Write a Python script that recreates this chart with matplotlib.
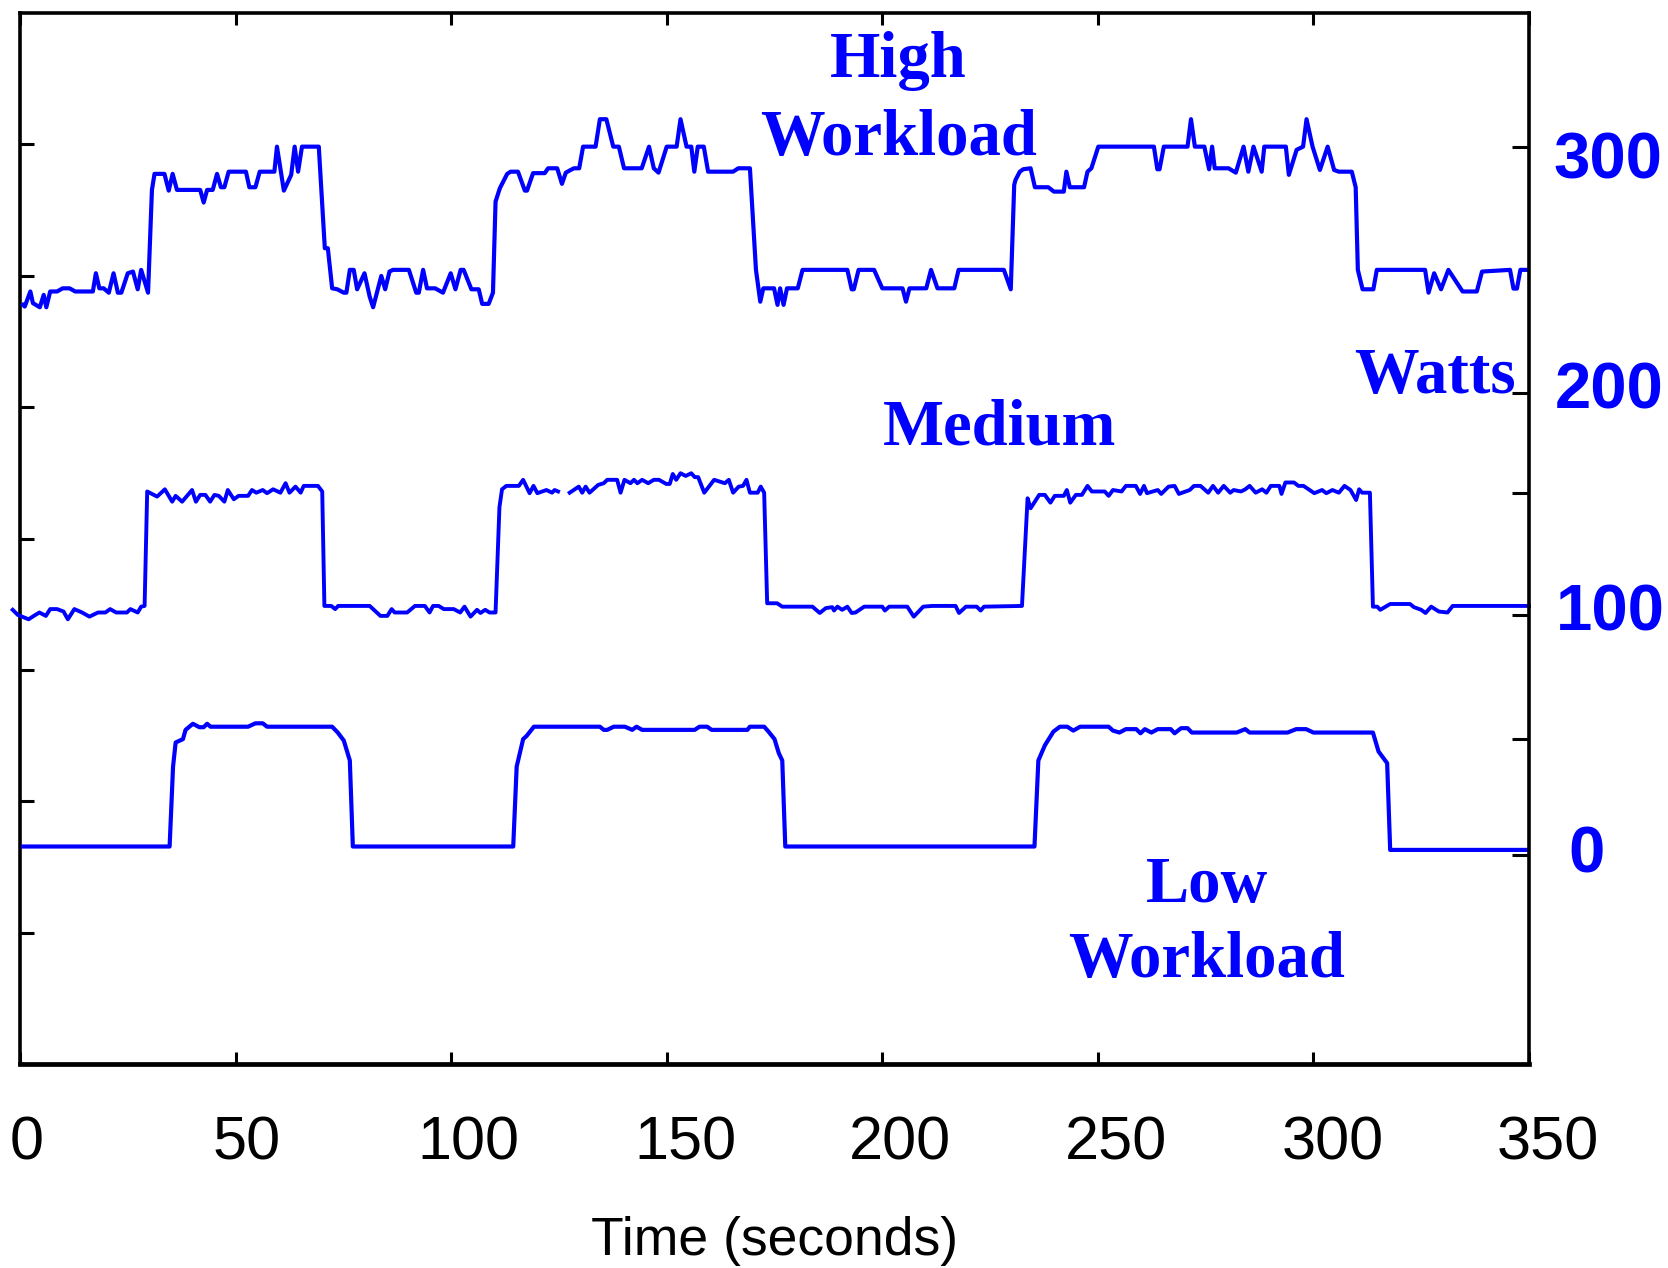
import numpy as np
import matplotlib
matplotlib.use('Agg')
import matplotlib.pyplot as plt
import matplotlib.transforms as mtransforms

# Datos (tiempo en segundos, potencia en watts)
t_high = [0.7, 1.1, 2.4, 3.0, 4.6, 5.5, 6.1, 7.0, 8.6, 9.9, 11.5, 12.8, 16.9, 17.6, 18.4, 19.4, 20.6, 21.7,
          22.7, 23.5, 25.0, 26.2, 27.3, 28.1, 29.7, 30.6, 31.2, 33.5, 34.5, 35.4, 36.4, 41.8, 42.6, 43.4,
          44.7, 45.7, 46.6, 47.4, 48.4, 52.4, 53.2, 54.6, 55.6, 59.0, 59.6, 61.2, 62.9, 63.7, 64.5, 65.4,
          69.3, 70.7, 71.4, 72.4, 73.6, 75.1, 75.7, 76.5, 77.4, 78.2, 79.9, 81.1, 81.9, 83.8, 84.7, 85.7,
          86.5, 90.2, 91.9, 92.5, 93.5, 94.4, 96.3, 98.1, 99.9, 101.0, 102.2, 102.9, 104.7, 106.4, 107.2,
          108.7, 109.7, 110.3, 111.3, 113.0, 113.8, 115.5, 117.1, 117.6, 119.0, 121.7, 122.5, 124.6, 125.7,
          126.6, 127.7, 128.5, 129.7, 130.6, 133.5, 134.5, 136.0, 137.6, 138.9, 140.1, 144.2, 145.9, 147.0,
          148.1, 150.0, 152.3, 153.2, 154.6, 155.7, 156.4, 157.2, 158.6, 159.6, 165.4, 166.6, 169.3, 170.7,
          171.7, 172.4, 174.9, 175.7, 176.3, 177.1, 177.9, 180.4, 181.5, 191.9, 192.9, 193.4, 194.5, 198.1,
          200.0, 204.7, 205.5, 206.3, 210.2, 211.3, 212.8, 216.7, 217.7, 228.2, 229.8, 230.6, 230.9, 231.9,
          232.7, 234.4, 235.4, 238.5, 239.8, 242.1, 242.7, 243.5, 246.8, 247.6, 248.5, 250.1, 263.0, 263.8,
          264.3, 265.3, 270.8, 271.6, 272.5, 274.7, 275.8, 276.5, 277.1, 280.3, 282.0, 283.8, 284.9, 286.1,
          288.0, 288.6, 293.6, 294.3, 296.1, 297.6, 298.4, 299.8, 301.5, 303.3, 304.8, 305.9, 308.9, 309.8,
          310.3, 311.4, 313.9, 314.7, 325.9, 326.7, 328.0, 329.6, 331.3, 334.6, 337.9, 339.1, 345.6, 346.4,
          347.2, 348.0, 350.0]
w_high = [224.3, 223.6, 229.8, 225.0, 223.3, 228.4, 223.3, 229.8, 229.8, 231.1, 231.1, 229.8, 229.8, 237.3,
          231.1, 231.1, 229.3, 237.3, 229.3, 229.3, 237.3, 238.0, 230.7, 238.7, 229.3, 271.6, 278.2, 278.2,
          271.3, 278.2, 271.6, 271.6, 266.4, 271.6, 271.6, 278.2, 272.7, 272.7, 279.1, 279.1, 272.7, 272.7,
          279.1, 279.1, 289.4, 271.3, 277.8, 289.4, 279.1, 289.4, 289.4, 247.6, 247.6, 231.1, 230.7, 229.3,
          229.3, 238.7, 238.7, 230.7, 237.3, 227.7, 223.3, 236.2, 230.7, 238.0, 238.7, 238.7, 229.3, 229.3,
          238.7, 231.1, 231.1, 229.3, 237.3, 230.7, 238.7, 238.7, 230.7, 230.7, 224.7, 224.7, 229.3, 266.8,
          272.3, 278.2, 279.1, 279.1, 271.3, 271.3, 278.5, 278.5, 280.5, 280.5, 274.1, 278.7, 279.8, 280.5,
          280.5, 289.4, 289.4, 300.7, 300.7, 289.4, 289.4, 280.5, 280.5, 289.4, 280.5, 278.7, 289.4, 289.4,
          300.7, 289.4, 289.4, 279.1, 289.4, 289.4, 279.1, 279.1, 280.5, 280.5, 238.7, 225.6, 231.1, 231.1,
          224.3, 231.1, 224.3, 231.1, 231.1, 238.7, 238.7, 230.7, 230.7, 238.7, 238.7, 231.1, 231.1, 225.6,
          231.1, 231.1, 238.7, 231.1, 231.1, 238.7, 238.7, 230.7, 273.7, 275.7, 279.1, 280.1, 280.5, 272.7,
          272.7, 270.9, 270.9, 279.1, 272.7, 272.7, 279.1, 280.5, 289.4, 289.4, 280.1, 280.1, 289.4, 289.4,
          300.7, 289.4, 289.4, 280.1, 289.4, 280.5, 280.5, 278.7, 289.4, 279.1, 289.4, 279.1, 289.4, 289.4,
          277.8, 288.1, 289.4, 300.7, 289.4, 279.8, 289.4, 279.8, 279.1, 279.1, 272.7, 238.7, 230.7, 230.7,
          238.7, 238.7, 229.3, 237.3, 230.7, 238.7, 229.8, 229.8, 238.0, 238.7, 231.0, 231.0, 238.7, 238.7]

t_medium = [-1.7, -0.5, 2.0, 3.2, 4.5, 6.0, 7.0, 8.6, 10.1, 11.1, 12.6, 14.4, 16.1, 18.1, 19.8, 20.9, 22.3,
            24.8, 25.6, 27.3, 28.1, 28.9, 29.5, 31.8, 33.6, 35.3, 36.1, 37.6, 39.9, 40.8, 41.8, 43.0, 44.1,
            45.1, 46.1, 47.4, 48.2, 49.6, 50.7, 52.9, 53.8, 54.8, 56.3, 57.3, 58.7, 60.4, 61.6, 62.5, 63.9,
            65.1, 65.8, 69.1, 70.1, 70.6, 72.2, 73.1, 73.8, 81.1, 83.6, 85.2, 86.2, 86.9, 89.8, 91.6, 93.9,
            95.0, 95.8, 97.1, 98.3, 100.6, 102.1, 103.1, 104.5, 106.0, 106.8, 107.9, 108.9, 110.3, 111.2,
            111.8, 112.8, 115.7, 116.7, 118.2, 119.1, 120.0, 122.1, 123.4, 124.0, 124.8, 126.0, 127.5, 128.7,
            129.6, 130.4, 131.2, 132.1, 134.1, 135.4, 136.2, 138.5, 139.3, 140.2, 141.6, 142.4, 143.2, 144.3,
            145.7, 147.0, 148.2, 149.9, 150.7, 151.4, 152.2, 153.2, 154.4, 155.7, 156.5, 157.3, 158.7, 159.8,
            161.0, 163.5, 164.4, 165.4, 166.7, 167.7, 168.5, 169.3, 171.1, 171.8, 172.6, 173.3, 175.6, 176.8,
            183.8, 185.5, 186.9, 188.4, 188.8, 189.6, 190.7, 191.9, 192.9, 193.8, 195.8, 200.0, 200.6, 201.6,
            205.8, 207.3, 209.5, 211.6, 217.0, 217.8, 219.4, 221.9, 222.8, 223.6, 232.4, 233.7, 234.4, 236.4,
            237.7, 239.0, 240.0, 242.1, 242.8, 243.6, 244.9, 246.3, 247.6, 248.6, 251.6, 252.5, 253.5, 255.5,
            256.5, 258.8, 259.8, 260.7, 261.4, 263.9, 264.7, 266.4, 267.8, 268.8, 271.3, 272.3, 273.8, 275.6,
            276.7, 277.9, 279.2, 280.7, 281.5, 283.2, 284.2, 285.2, 286.6, 288.1, 289.1, 290.1, 292.1, 292.6,
            293.5, 295.5, 296.5, 297.7, 300.2, 302.0, 303.0, 304.4, 305.9, 307.2, 308.6, 309.9, 310.6, 311.3,
            313.1, 313.8, 314.8, 315.5, 317.8, 322.4, 323.3, 325.0, 326.0, 327.3, 329.1, 331.1, 332.3, 350.0]
w_medium = [98.8, 96.7, 94.9, 96.3, 97.7, 96.3, 99.1, 99.1, 98.1, 94.9, 99.1, 97.7, 96.0, 97.7, 97.7, 99.1,
            97.7, 97.7, 99.1, 97.7, 100.1, 100.4, 147.5, 145.4, 148.4, 143.3, 145.7, 143.3, 148.1, 143.3,
            146.1, 146.1, 143.3, 146.1, 145.7, 143.3, 148.1, 144.3, 145.7, 145.7, 148.1, 147.0, 148.1, 146.8,
            148.4, 147.0, 150.9, 147.0, 149.5, 147.0, 149.8, 149.8, 147.5, 100.4, 100.4, 99.1, 100.4, 100.4,
            96.3, 96.3, 99.1, 97.7, 97.7, 100.4, 100.4, 97.7, 100.4, 100.4, 99.1, 99.1, 97.7, 100.1, 96.0,
            98.8, 97.5, 98.8, 97.7, 97.7, 141.0, 148.4, 149.8, 149.8, 152.3, 146.8, 149.8, 146.8, 148.1,
            147.0, 148.1, 147.5, np.nan, 147.0, 148.4, 149.5, 147.0, 149.5, 147.0, 150.2, 150.9, 152.3, 152.3,
            147.0, 152.3, 150.9, 152.3, 150.9, 152.3, 150.9, 152.3, 152.3, 150.6, 150.6, 154.7, 152.3, 155.0,
            153.9, 155.0, 153.4, 153.4, 147.0, 149.5, 152.3, 150.9, 152.3, 147.0, 149.5, 149.8, 152.3, 147.0,
            147.0, 149.5, 147.0, 101.5, 101.5, 100.1, 100.1, 97.5, 99.5, 99.9, 98.5, 100.1, 98.8, 100.1, 97.5,
            97.7, 100.1, 100.1, 98.5, 100.1, 100.1, 96.0, 100.1, 100.4, 100.4, 97.5, 100.1, 100.1, 98.5, 100.1,
            100.4, 144.7, 140.6, 146.1, 146.1, 142.9, 145.7, 145.7, 148.1, 142.9, 146.1, 146.1, 149.8, 147.5,
            147.5, 145.7, 148.1, 147.5, 149.8, 149.8, 146.5, 149.8, 146.8, 148.1, 146.5, 149.5, 149.8, 146.5,
            148.1, 149.8, 149.8, 147.0, 149.8, 147.0, 149.8, 147.0, 148.1, 147.5, 148.4, 149.8, 147.0, 148.4,
            147.0, 149.8, 149.8, 146.5, 151.2, 151.2, 149.8, 149.8, 146.8, 148.1, 146.8, 148.1, 147.0, 149.8,
            148.1, 144.0, 148.4, 147.0, 147.0, 100.1, 100.1, 98.8, 101.2, 101.2, 99.9, 98.8, 97.5, 100.1,
            98.1, 97.7, 100.4, 100.4]

t_low = [0.7, 34.7, 35.5, 36.1, 37.8, 38.4, 40.1, 41.6, 42.6, 43.4, 44.2, 52.9, 54.6, 56.3, 57.3, 72.4, 73.7,
         75.1, 76.5, 77.2, 114.4, 115.2, 116.7, 117.5, 119.2, 134.5, 135.4, 136.2, 137.7, 140.3, 142.0, 143.0,
         144.3, 156.5, 157.6, 159.4, 160.4, 168.7, 169.3, 172.6, 173.6, 175.0, 176.0, 176.8, 177.5, 235.3,
         236.2, 237.7, 239.7, 241.2, 242.9, 244.3, 245.9, 252.5, 253.5, 255.0, 256.5, 258.9, 259.9, 260.9,
         262.4, 263.9, 266.9, 267.8, 269.3, 270.8, 271.8, 282.2, 284.2, 285.2, 294.0, 296.0, 298.3, 300.0,
         313.8, 315.1, 317.1, 317.8, 350.0]
w_low = [1.4, 1.4, 34.3, 44.2, 45.6, 49.4, 51.9, 50.5, 50.5, 51.9, 50.7, 50.7, 52.1, 52.1, 50.7, 50.7, 48.3,
         45.0, 36.8, 1.4, 1.4, 34.3, 45.6, 46.9, 50.7, 50.7, 49.4, 49.4, 50.7, 50.7, 49.4, 50.7, 49.4, 49.4,
         50.7, 50.7, 49.4, 49.4, 50.7, 50.7, 48.7, 45.6, 39.8, 36.8, 1.4, 1.4, 36.8, 43.0, 48.7, 50.7, 50.7,
         49.1, 50.7, 50.7, 49.1, 48.3, 49.7, 49.7, 48.0, 49.7, 48.3, 49.7, 49.7, 48.0, 50.1, 50.1, 48.3, 48.3,
         49.7, 48.3, 48.3, 49.7, 49.7, 48.3, 48.3, 40.5, 35.7, 0.0, 0.0]

x_ticks = [0, 50, 100, 150, 200, 250, 300, 350]
x_ticklabels = ['0', '50', '100', '150', '200', '250', '300', '350']
left_ticks = [1, 2, 3, 4, 5, 6, 7]
right_ticks = [-2.1, 45.7, 96.7, 146.9, 188.1, 289.3]
watt_labels = ['300', '200', '100', '0']
watt_label_t = [368.4, 368.6, 368.8, 363.4]
watt_label_w = [276.1, 181.6, 90.3, -9.5]

azul = '#0000ff'
sans = 'Liberation Sans'
serif = 'Liberation Serif'

fig = plt.figure(figsize=(16.68, 12.68), dpi=100)
ax = fig.add_axes([20 / 1668, 1 - 1064 / 1268, 1509 / 1668, 1051 / 1268])

# eje izquierdo: solo marcas, sin numeros
ax.set_xlim(0, 350)
ax.set_ylim(0, 8)
ax.set_yticks(left_ticks)
ax.set_yticklabels([])
ax.set_xticks(x_ticks)
ax.set_xticklabels(x_ticklabels, fontsize=44, family=sans)
ax.tick_params(axis='y', direction='in', length=10, width=2.2, left=True, right=False)
ax.tick_params(axis='x', direction='in', length=8.5, width=2.2, top=True, bottom=True, pad=37)
# los numeros del eje x estan algo corridos a la derecha en el original
desplaz = [7, 11, 17, 19, 18, 18, 19, 19]
for lbl, dx in zip(ax.get_xticklabels(), desplaz):
    lbl.set_transform(lbl.get_transform() + mtransforms.ScaledTranslation(dx / 100, 0, fig.dpi_scale_trans))
ax.set_xlabel('Time (seconds)', fontsize=38.5, family=sans)
ax.xaxis.set_label_coords(0.5, -0.1446)
for s in ['left', 'top']:
    ax.spines[s].set_linewidth(2.6)
ax.spines['bottom'].set_linewidth(3.4)
ax.spines['right'].set_visible(False)

# eje derecho en watts, con las curvas
ax2 = ax.twinx()
ax2.set_ylim(-88.1, 344.4)
ax2.set_yticks(right_ticks)
ax2.set_yticklabels([])
ax2.tick_params(axis='y', direction='in', length=12.5, width=2.2, left=False, right=True)
for s in ['left', 'top', 'bottom']:
    ax2.spines[s].set_visible(False)
ax2.spines['right'].set_linewidth(2.6)

ax2.plot(t_high, w_high, color=azul, linewidth=3.0)
ax2.plot(t_medium, w_medium, color=azul, linewidth=2.8, clip_on=False)
ax2.plot(t_low, w_low, color=azul, linewidth=3.0)

# textos
tb = dict(color=azul, fontsize=46.5, fontweight='bold', family=serif, ha='center', va='baseline')
ax2.text(203.8, 318.2, 'High', **tb)
ax2.text(203.8, 286.0, 'Workload', **tb)
ax2.text(227.3, 166.7, 'Medium', **tb)
ax2.text(328.2, 187.9, 'Watts', **tb)
ax2.text(275.3, -21.4, 'Low', **tb)
ax2.text(275.3, -52.1, 'Workload', **tb)

for lab, tt, ww in zip(watt_labels, watt_label_t, watt_label_w):
    ax2.text(tt, ww, lab, color=azul, fontsize=47, fontweight='bold', family=sans,
             ha='center', va='baseline', clip_on=False)

plt.savefig('out.png', dpi=100)
